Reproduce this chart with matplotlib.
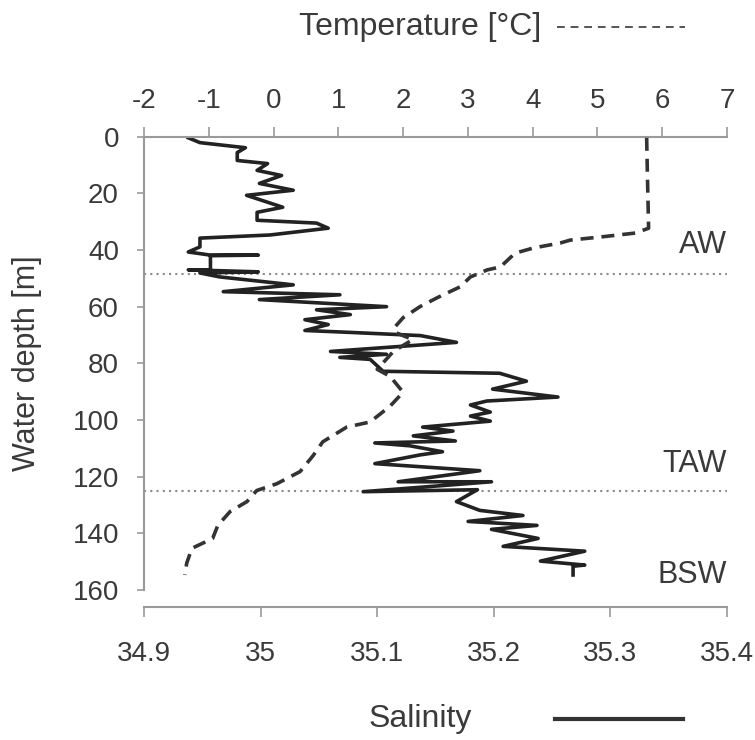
import matplotlib
matplotlib.use('Agg')
import matplotlib.pyplot as plt
from matplotlib.lines import Line2D

plt.rcParams['font.family'] = ['Liberation Sans', 'DejaVu Sans']
plt.rcParams['axes.unicode_minus'] = False

# salinity profile
sal_depth = [0.4, 2.1, 3.9, 5.6, 8.4, 9.5, 11.9, 13.7, 16.5, 18.9, 20.7, 24.9, 26.7, 29.5,
             30.5, 32.3, 34.7, 35.8, 38.9, 40.7, 41.8, 41.8, 42.0, 47.0, 47.0, 47.7, 48.1,
             49.5, 52.3, 54.7, 55.8, 57.5, 60.0, 61.1, 62.8, 64.6, 66.3, 68.4, 69.1, 70.2,
             72.6, 75.8, 76.8, 77.9, 78.6, 82.8, 83.5, 86.3, 89.1, 91.9, 93.3, 94.7, 97.2,
             98.6, 100.4, 102.5, 103.9, 105.6, 107.4, 108.1, 109.1, 111.2, 112.3, 115.4,
             117.9, 121.8, 121.8, 125.3, 124.6, 128.8, 131.9, 133.7, 135.8, 137.2, 138.6,
             141.8, 144.6, 146.3, 149.8, 151.2, 151.6, 154.7]
salinity = [34.938, 34.948, 34.987, 34.980, 34.980, 35.006, 34.997, 35.018, 34.999, 35.028,
            34.988, 35.019, 34.997, 34.997, 35.048, 35.058, 35.008, 34.948, 34.948, 34.938,
            34.957, 34.998, 34.957, 34.957, 34.938, 34.998, 34.948, 34.965, 35.028, 34.968,
            35.068, 34.999, 35.108, 35.048, 35.077, 35.038, 35.058, 35.038, 35.078, 35.137,
            35.168, 35.060, 35.108, 35.068, 35.094, 35.105, 35.205, 35.228, 35.199, 35.255,
            35.194, 35.180, 35.197, 35.180, 35.197, 35.139, 35.165, 35.131, 35.167, 35.098,
            35.128, 35.156, 35.137, 35.098, 35.188, 35.118, 35.198, 35.088, 35.186, 35.168,
            35.188, 35.225, 35.178, 35.237, 35.198, 35.238, 35.208, 35.278, 35.240, 35.278,
            35.268, 35.268]

# temperature profile
temp_depth = [0.4, 11.9, 22.0, 32.3, 34.0, 35.4, 36.5, 37.5, 39.3, 41.1, 46.0, 47.0, 49.5,
              53.0, 56.8, 60.0, 63.9, 67.0, 69.1, 71.6, 75.8, 82.1, 84.6, 90.2, 95.1, 100.7,
              102.5, 107.7, 112.6, 118.2, 122.5, 124.9, 128.8, 132.3, 137.2, 141.8, 145.3,
              150.5, 154.7]
temperature = [5.76, 5.77, 5.78, 5.79, 5.59, 5.05, 4.58, 4.43, 4.01, 3.73, 3.50, 3.30, 3.04,
               2.88, 2.53, 2.26, 2.00, 1.88, 1.88, 2.15, 1.85, 1.60, 1.80, 2.00, 1.80, 1.49,
               1.13, 0.76, 0.61, 0.41, 0.05, -0.26, -0.41, -0.67, -0.86, -0.94, -1.26, -1.34,
               -1.37]

boundary_depth = [48.5, 125]
water_masses = ['AW', 'TAW', 'BSW']
mass_depth = [38.2, 115.5, 154.7]

sal_ticks = [34.9, 35.0, 35.1, 35.2, 35.3, 35.4]
sal_labels = ['34.9', '35', '35.1', '35.2', '35.3', '35.4']
temp_ticks = list(range(-2, 8))
depth_ticks = list(range(0, 161, 20))

axis_col = '#9a9a9a'
text_col = '#3a3a3a'
fs = 20

fig = plt.figure(figsize=(7.55, 7.40), dpi=100)
ax = fig.add_axes([0.1907, 0.2027, 0.7722, 0.6126])

for d in boundary_depth:
    ax.axhline(d, color='#8a8a8a', lw=1.5, ls=(0, (1, 2)), zorder=1)

ax.plot(salinity, sal_depth, color='#222222', lw=2.6, zorder=3)
ax.set_xlim(34.9, 35.4)
ax.set_ylim(160, 0)
ax.set_xticks(sal_ticks)
ax.set_xticklabels(sal_labels)
ax.set_yticks(depth_ticks)
for s in ['top', 'right']:
    ax.spines[s].set_visible(False)
ax.spines['bottom'].set_position(('outward', 12))
for s in ['bottom', 'left']:
    ax.spines[s].set_color(axis_col)
    ax.spines[s].set_linewidth(1.5)
ax.tick_params(axis='x', length=7, width=1.2, color=axis_col, labelcolor=text_col,
               labelsize=fs, pad=18)
ax.tick_params(axis='y', length=5, width=1.2, color=axis_col, labelcolor=text_col,
               labelsize=fs, pad=13)
ax.set_ylabel('Water depth [m]', fontsize=22, color=text_col, labelpad=22)

for name, d in zip(water_masses, mass_depth):
    ax.text(35.4, d, name, ha='right', va='center', fontsize=22, color=text_col)

ax2 = ax.twiny()
ax2.plot(temperature, temp_depth, color='#333333', lw=2.6, ls=(0, (3.6, 2.2)), zorder=3)
ax2.set_xlim(-2, 7)
ax2.set_xticks(temp_ticks)
for s in ['bottom', 'right', 'left']:
    ax2.spines[s].set_visible(False)
ax2.spines['top'].set_color(axis_col)
ax2.spines['top'].set_linewidth(1.5)
ax2.tick_params(axis='x', length=7, width=1.2, color=axis_col, labelcolor=text_col,
                labelsize=fs, pad=9)

# legend-like captions
fig.text(0.556, 0.9635, 'Temperature [°C]', ha='center', va='center', fontsize=23,
         color=text_col)
fig.add_artist(Line2D([557 / 755, 685 / 755], [0.9635, 0.9635], transform=fig.transFigure,
                      color='#555555', lw=1.4, ls=(0, (4, 3))))
fig.text(0.556, 0.0284, 'Salinity', ha='center', va='center', fontsize=23, color=text_col)
fig.add_artist(Line2D([555 / 755, 683 / 755], [0.0284, 0.0284], transform=fig.transFigure,
                      color='#333333', lw=3))

fig.savefig('out.png', dpi=100)
